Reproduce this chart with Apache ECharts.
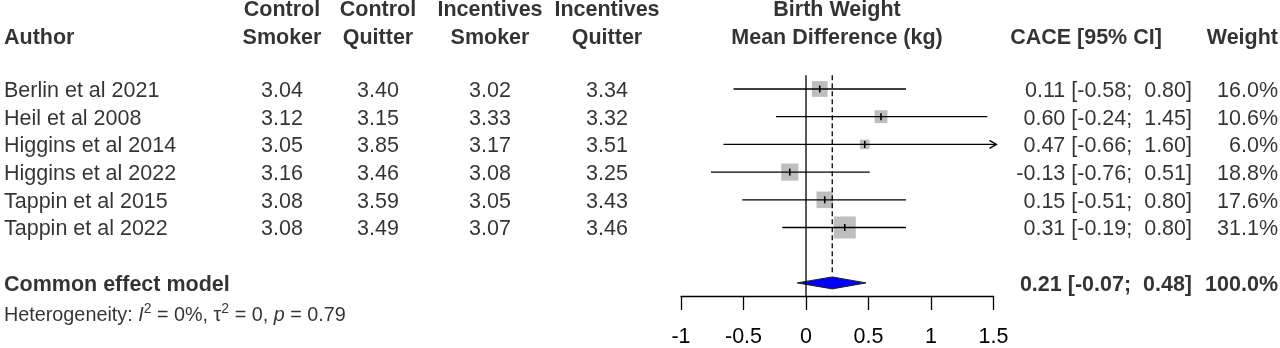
<!DOCTYPE html>
<html>
<head>
<meta charset="utf-8">
<script src="https://cdn.jsdelivr.net/npm/echarts@6/dist/echarts.min.js"></script>
<style>
  html, body { margin: 0; padding: 0; background: #fff; }
  #main { width: 1280px; height: 348px; }
</style>
</head>
<body>
<div id="main"></div>
<script>
// study rows
var authors = ['Berlin et al 2021', 'Heil et al 2008', 'Higgins et al 2014',
               'Higgins et al 2022', 'Tappin et al 2015', 'Tappin et al 2022'];
var ctrlSmoker  = [3.04, 3.12, 3.05, 3.16, 3.08, 3.08];
var ctrlQuitter = [3.40, 3.15, 3.85, 3.46, 3.59, 3.49];
var incSmoker   = [3.02, 3.33, 3.17, 3.08, 3.05, 3.07];
var incQuitter  = [3.34, 3.32, 3.51, 3.25, 3.43, 3.46];
var cace  = [0.11, 0.60, 0.47, -0.13, 0.15, 0.31];
var lower = [-0.58, -0.24, -0.66, -0.76, -0.51, -0.19];
var upper = [0.80, 1.45, 1.60, 0.51, 0.80, 0.80];
var weight = [16.0, 10.6, 6.0, 18.8, 17.6, 31.1];

// common effect model
var pooled = [0.21, -0.07, 0.48];   // est, lower, upper
var pooledWeight = 100.0;
var pooledRow = 7;
var hetText = ['0%', '0', '0.79'];  // I^2, tau^2, p

var xTicks = [-1, -0.5, 0, 0.5, 1, 1.5];

var FONT = 'Liberation Sans';
var FS = 21.5;
var XMIN = xTicks[0], XMAX = xTicks[xTicks.length - 1];

var chart = echarts.init(document.getElementById('main'));

function f2(v) { return v.toFixed(2); }
function ciText(e, l, u) { return f2(e) + ' [' + f2(l) + ';  ' + f2(u) + ']'; }

// text column helper: one scatter series per column
function textCol(x, rows, texts, align, bold, size) {
  return {
    type: 'scatter', xAxisIndex: 1, yAxisIndex: 1, symbolSize: 0, silent: true,
    data: texts.map(function (t, i) { return [x, rows[i], t]; }),
    label: {
      show: true, position: 'inside', align: align, verticalAlign: 'middle',
      offset: [0, 2],
      formatter: function (p) { return p.value[2]; },
      color: '#000', fontFamily: FONT, fontSize: size || FS,
      fontWeight: bold ? 'bold' : 'normal'
    }
  };
}

var rowIdx = authors.map(function (a, i) { return i; });
var H1 = -2.92, H2 = -1.9;   // header rows

var series = [];

// study CI, squares, ticks
series.push({
  type: 'custom', xAxisIndex: 0, yAxisIndex: 0, clip: false,
  data: cace.map(function (c, i) { return [c, i, lower[i], upper[i], weight[i]]; }),
  encode: { x: 0, y: 1 },
  renderItem: function (params, api) {
    var est = api.value(0), row = api.value(1), lo = api.value(2), hi = api.value(3), w = api.value(4);
    var y = api.coord([0, row])[1];
    var xe = api.coord([est, row])[0];
    var xl = api.coord([Math.max(lo, XMIN), row])[0];
    var xh = api.coord([Math.min(hi, XMAX), row])[0];
    var s = 3.95 * Math.sqrt(w);
    var kids = [
      { type: 'rect', shape: { x: xe - s / 2, y: y - s / 2, width: s, height: s },
        style: { fill: '#bebebe' } },
      { type: 'line', shape: { x1: xl, y1: y, x2: xh, y2: y },
        style: { stroke: '#000', lineWidth: 1.3 } },
      { type: 'line', shape: { x1: xe, y1: y - 3.5, x2: xe, y2: y + 3.5 },
        style: { stroke: '#000', lineWidth: 1.6 } }
    ];
    if (hi > XMAX) {
      kids.push({ type: 'polyline', shape: { points: [[xh - 4, y - 4], [xh + 3, y], [xh - 4, y + 4]] },
        style: { stroke: '#000', lineWidth: 1.3, fill: null } });
      kids[1].shape.x2 = xh + 3;
    }
    return { type: 'group', children: kids };
  }
});

// reference lines
series.push({
  type: 'line', xAxisIndex: 0, yAxisIndex: 0, symbol: 'none', silent: true,
  data: [[0, -0.5], [0, 7.473]],
  lineStyle: { color: '#000', width: 1.3 }
});
series.push({
  type: 'line', xAxisIndex: 0, yAxisIndex: 0, symbol: 'none', silent: true,
  data: [[pooled[0], -0.5], [pooled[0], 6.62]],
  lineStyle: { color: '#000', width: 1.3, type: [5, 3] }
});

// pooled diamond
series.push({
  type: 'custom', xAxisIndex: 0, yAxisIndex: 0, clip: false,
  data: [[pooled[0], pooledRow, pooled[1], pooled[2]]],
  encode: { x: 0, y: 1 },
  renderItem: function (params, api) {
    var row = api.value(1);
    var c = api.coord([api.value(0), row]);
    var l = api.coord([api.value(2), row]);
    var u = api.coord([api.value(3), row]);
    var h = 6;
    return { type: 'polygon',
      shape: { points: [[l[0], c[1]], [c[0], c[1] - h], [u[0], c[1]], [c[0], c[1] + h]] },
      style: { fill: '#0000ff', stroke: '#202020', lineWidth: 1 } };
  }
});

// table columns
series.push(textCol(4, rowIdx, authors, 'left'));
series.push(textCol(282, rowIdx, ctrlSmoker.map(f2), 'center'));
series.push(textCol(378, rowIdx, ctrlQuitter.map(f2), 'center'));
series.push(textCol(490, rowIdx, incSmoker.map(f2), 'center'));
series.push(textCol(607, rowIdx, incQuitter.map(f2), 'center'));
series.push(textCol(1192, rowIdx, cace.map(function (c, i) { return ciText(c, lower[i], upper[i]); }), 'right'));
series.push(textCol(1278, rowIdx, weight.map(function (w) { return w.toFixed(1) + '%'; }), 'right'));

// headers
series.push(textCol(4, [H2], ['Author'], 'left', true));
series.push(textCol(282, [H1, H2], ['Control', 'Smoker'], 'center', true));
series.push(textCol(378, [H1, H2], ['Control', 'Quitter'], 'center', true));
series.push(textCol(490, [H1, H2], ['Incentives', 'Smoker'], 'center', true));
series.push(textCol(607, [H1, H2], ['Incentives', 'Quitter'], 'center', true));
series.push(textCol(837, [H1, H2], ['Birth Weight', 'Mean Difference (kg)'], 'center', true));
series.push(textCol(1086, [H2], ['CACE [95% CI]'], 'center', true));
series.push(textCol(1278, [H2], ['Weight'], 'right', true));

// summary row
series.push(textCol(4, [pooledRow], ['Common effect model'], 'left', true));
series.push(textCol(1192, [pooledRow], [ciText(pooled[0], pooled[1], pooled[2])], 'right', true));
series.push(textCol(1278, [pooledRow], [pooledWeight.toFixed(1) + '%'], 'right', true));

// heterogeneity line
series.push({
  type: 'scatter', xAxisIndex: 1, yAxisIndex: 1, symbolSize: 0, silent: true,
  data: [[4, 8.12]],
  label: {
    show: true, position: 'inside', align: 'left', verticalAlign: 'middle',
    formatter: '{a|Heterogeneity: }{i|I}{s|2}{a| = ' + hetText[0] + ', τ}{s|2}{a| = ' + hetText[1] +
               ', }{i|p}{a| = ' + hetText[2] + '}',
    rich: {
      a: { fontFamily: FONT, fontSize: 19.8, color: '#000', lineHeight: 24, verticalAlign: 'bottom' },
      i: { fontFamily: FONT, fontSize: 19.8, color: '#000', fontStyle: 'italic', lineHeight: 24, verticalAlign: 'bottom' },
      s: { fontFamily: FONT, fontSize: 14, color: '#000', lineHeight: 24, verticalAlign: 'top' }
    }
  }
});

var option = {
  animation: false,
  backgroundColor: '#fff',
  grid: [
    { left: 681, width: 312.5, top: 0, height: 296 },
    { left: 0, width: 1280, top: 0, height: 348 }
  ],
  xAxis: [
    { type: 'value', gridIndex: 0, min: XMIN, max: XMAX, interval: 0.5,
      splitLine: { show: false },
      axisLine: { show: true, onZero: false, lineStyle: { color: '#000', width: 1.3 } },
      axisTick: { show: true, length: 14, lineStyle: { color: '#000', width: 1.3 } },
      axisLabel: { color: '#000', fontFamily: FONT, fontSize: FS, margin: 30,
        formatter: function (v) { return String(v); } } },
    { type: 'value', gridIndex: 1, min: 0, max: 1280, show: false }
  ],
  yAxis: [
    { type: 'value', gridIndex: 0, min: -3.213, max: 7.473, inverse: true, show: false },
    { type: 'value', gridIndex: 1, min: -3.213, max: 9.35, inverse: true, show: false }
  ],
  series: series
};
chart.setOption(option);
</script>
</body>
</html>
